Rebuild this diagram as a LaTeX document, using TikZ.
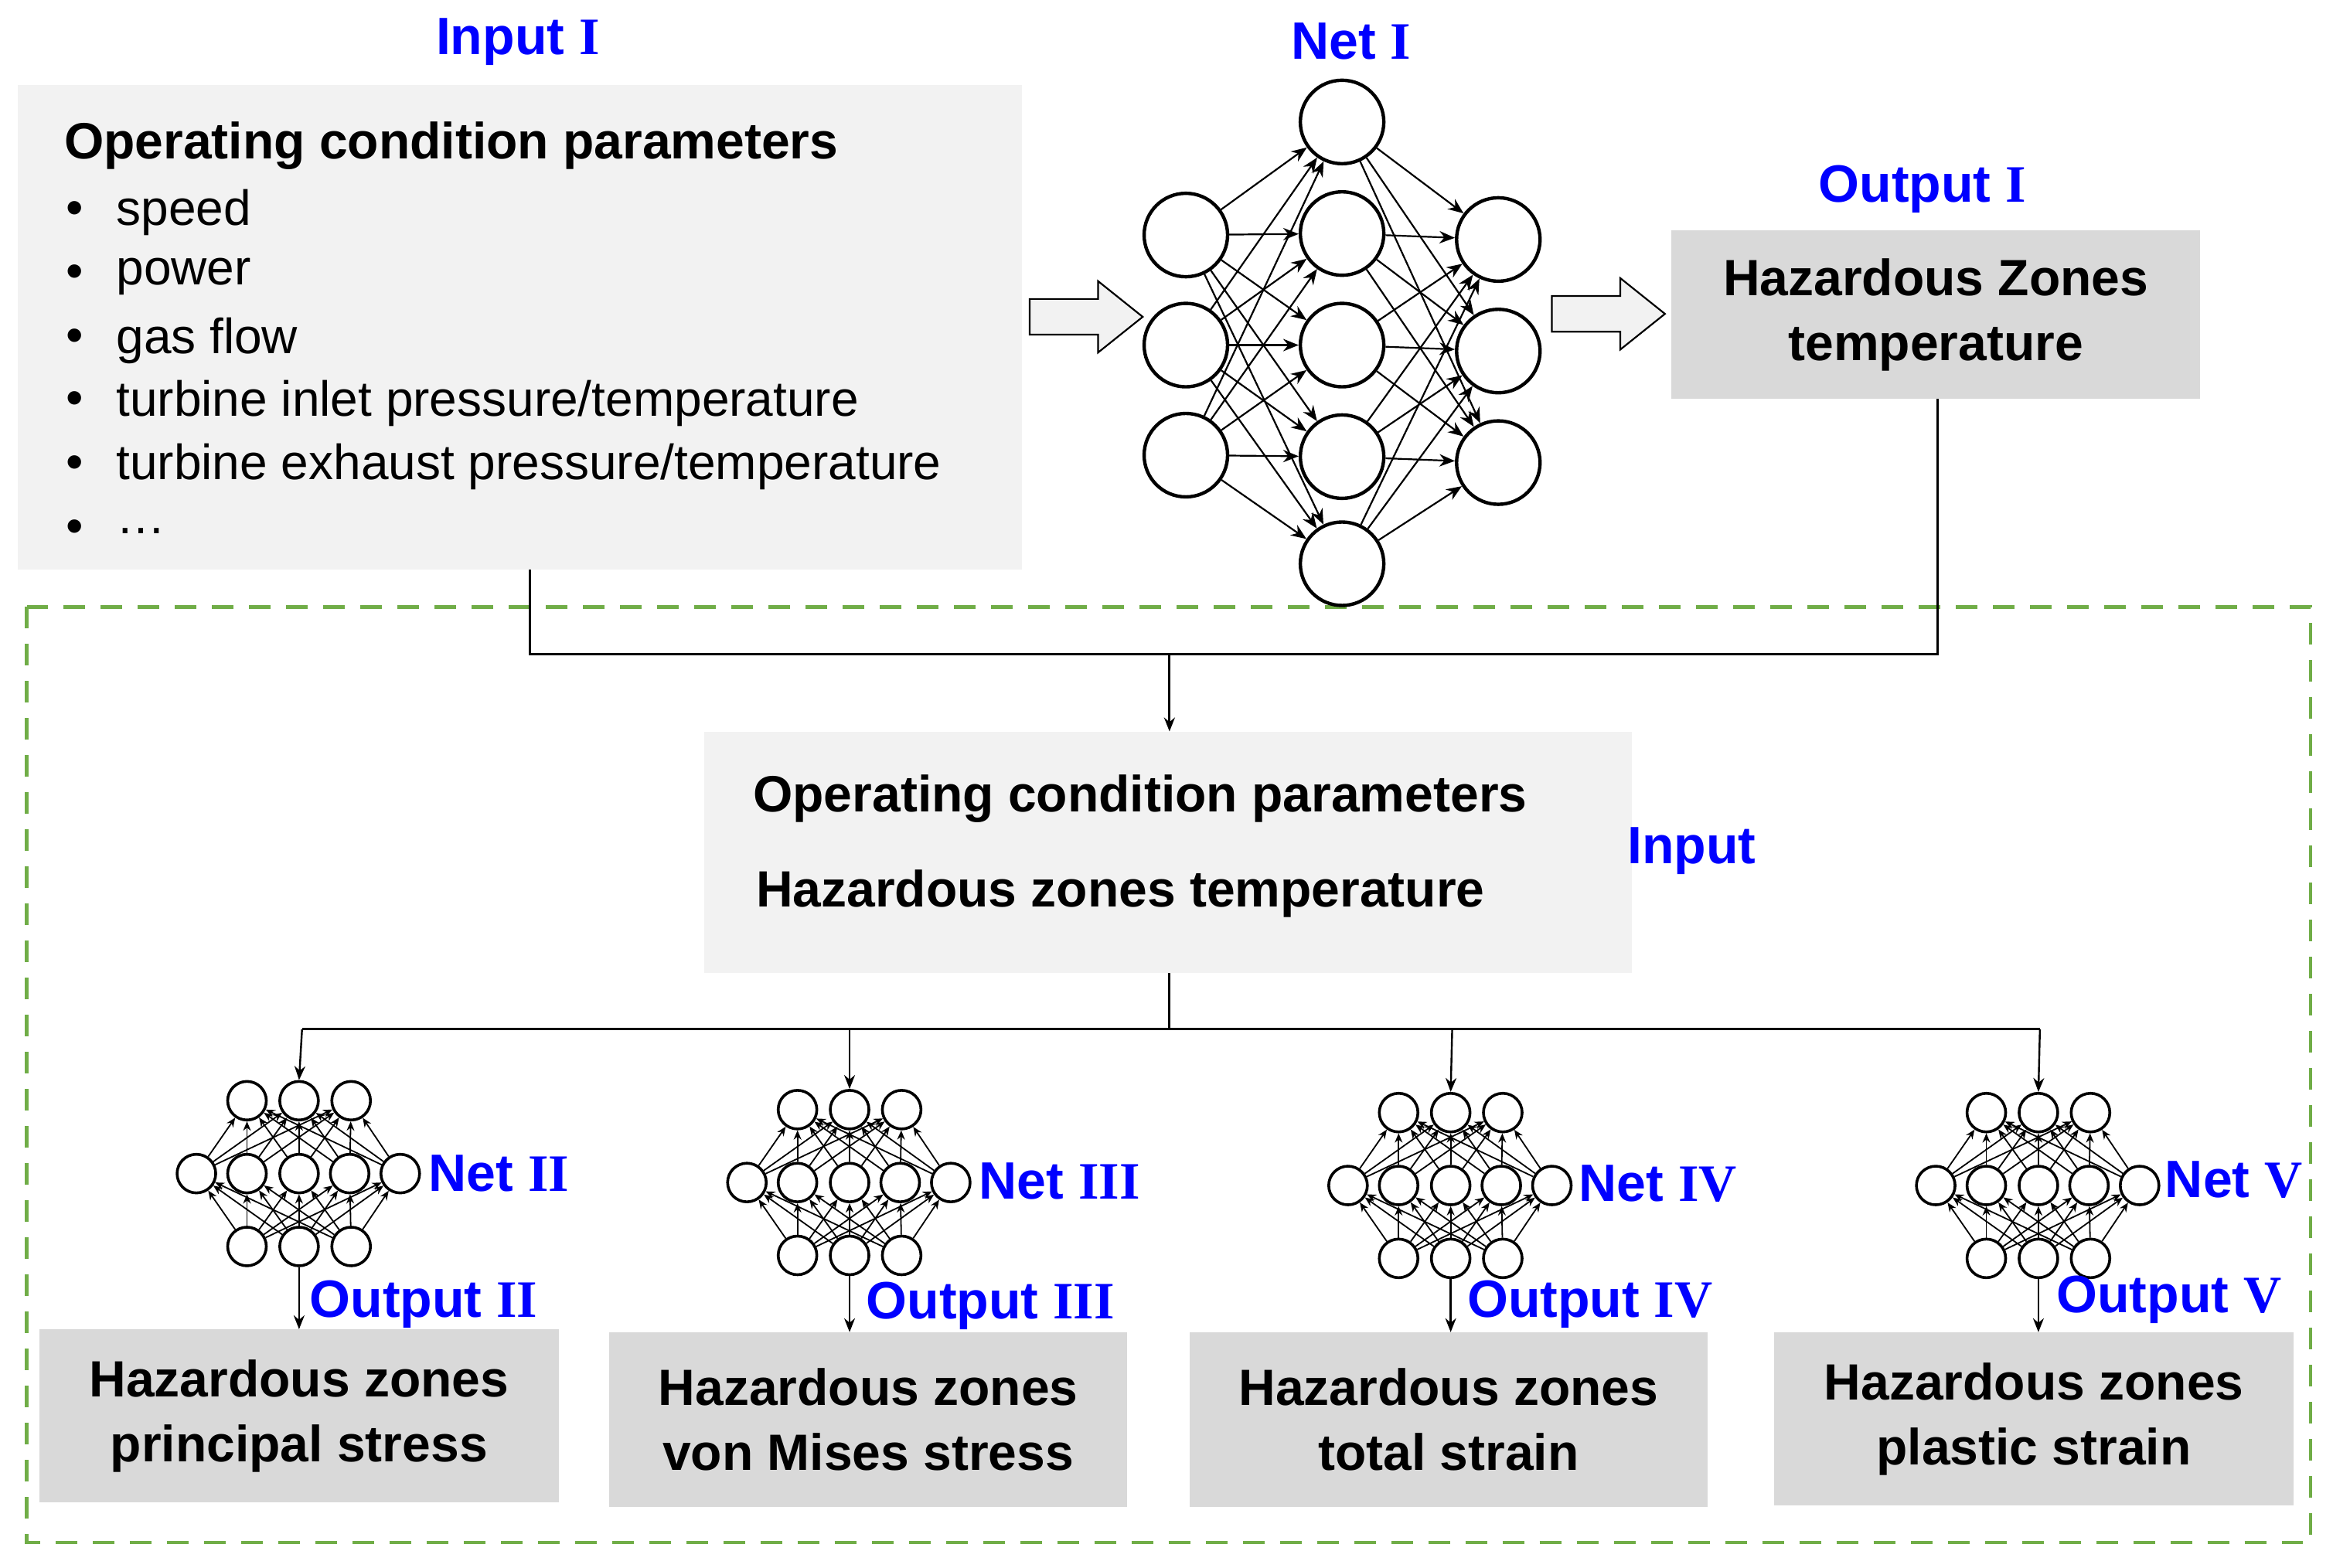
\documentclass[tikz,border=0pt]{standalone}
\usepackage{fontspec}
\setmainfont{Liberation Sans}
\newfontfamily\romf{Liberation Serif}
\usetikzlibrary{arrows.meta}
\definecolor{lbox}{HTML}{F2F2F2}
\definecolor{dbox}{HTML}{D9D9D9}
\definecolor{lblue}{HTML}{0000FF}
\definecolor{dgreen}{HTML}{70AD47}
\newcommand\rn[1]{{\romf\bfseries #1}}
\newcommand\snet[3]{% name, x, ytop
  \foreach \i/\dx in {1/-35,2/0,3/35}{\node[sc] (#1t\i) at (#2+\dx,#3) {};}
  \foreach \i/\dx in {1/-69,2/-35,3/0,4/34,5/68}{\node[sc] (#1m\i) at (#2+\dx,#3+49) {};}
  \foreach \i/\dx in {1/-35,2/0,3/35}{\node[sc] (#1b\i) at (#2+\dx,#3+98) {};}
  \foreach \a in {1,2,3}{\foreach \b in {1,...,5}{\draw[sarr] (#1b\a) -- (#1m\b);}}
  \foreach \a in {1,...,5}{\foreach \b in {1,2,3}{\draw[sarr] (#1m\a) -- (#1t\b);}}
}
\newcommand\harrow[2]{% left x, center y
  \draw[line width=1.1pt,fill=lbox] (#1,#2-12) -- (#1+46,#2-12) -- (#1+46,#2-24) -- (#1+76,#2) -- (#1+46,#2+24) -- (#1+46,#2+12) -- (#1,#2+12) -- cycle;}
\begin{document}
\begin{tikzpicture}[x=0.9625pt,y=-0.9625pt,
  bc/.style={circle,draw,line width=2.2pt,minimum size=54,inner sep=0,fill=white},
  sc/.style={circle,draw,line width=1.8pt,minimum size=25,inner sep=0,fill=white},
  barr/.style={-{Stealth[length=10pt,width=8pt]},line width=1.1pt},
  sarr/.style={-{Stealth[length=6pt,width=5pt]},line width=0.9pt},
  conn/.style={line width=1.5pt},
  carr/.style={line width=1.4pt,-{Stealth[length=9pt,width=7pt]}},
  lab/.style={text=lblue,font=\fontsize{34}{40}\selectfont\bfseries,inner sep=0},
  txt/.style={font=\fontsize{32}{38}\selectfont,inner sep=0,anchor=west},
  btxt/.style={font=\fontsize{33}{38}\selectfont\bfseries,inner sep=0,anchor=west},
  hbox/.style={fill=dbox,align=center,inner sep=0,font=\fontsize{33}{42}\selectfont\bfseries}]
\useasboundingbox (0,0) rectangle (1568,1054);
% green dashed frame
\draw[dgreen,line width=2.2pt,dash pattern=on 14pt off 10pt] (18,408) rectangle (1553,1037);
% Input I
\node[lab] (inI) at (348,28) {Input \rn{I}};
\fill[lbox] (12,57) rectangle (687,383);
\coordinate (inbot) at (356,383);
\node[btxt] (t0) at (43,98) {Operating condition parameters};
\foreach \y/\s [count=\k] in {143/{speed},186/{power},229/{gas flow},271/{turbine inlet pressure/temperature},314/{turbine exhaust pressure/temperature},357/{\ldots}}{
  \node[txt] (bu\k) at (44,\y) {•};
  \node[txt] (bt\k) at (78,\y) {\s};}
% hollow arrows
\harrow{692}{213}
\harrow{1043}{211}
% Net I
\node[lab] (netI) at (908,28) {Net \rn{I}};
\foreach \i/\y in {1/158,2/232,3/306}{\node[bc] (L\i) at (797,\y) {};}
\foreach \i/\y in {1/82,2/157,3/232,4/307,5/379}{\node[bc] (M\i) at (902,\y) {};}
\foreach \i/\y in {1/161,2/236,3/311}{\node[bc] (R\i) at (1007,\y) {};}
\foreach \a in {1,2,3}{\foreach \b in {1,...,5}{\draw[barr] (L\a) -- (M\b);}}
\foreach \a in {1,...,5}{\foreach \b in {1,2,3}{\draw[barr] (M\a) -- (R\b);}}
% Output I
\node[lab] (outI) at (1292,127) {Output \rn{I}};
\node[hbox,minimum width=342,minimum height=109] (oI) at (1301,211.5) {Hazardous Zones\\temperature};
% connectors
\coordinate (j1) at (356,440);
\coordinate (j2) at (1302,440);
\coordinate (j3) at (786,440);
\draw[conn] (inbot) -- (j1) -- (j2) -- (oI.south -| j2);
% middle box
\node[fill=lbox,minimum width=600,minimum height=156,inner sep=0] (mid) at (785,573) {};
\node[btxt] (m1) at (506,537) {Operating condition parameters};
\node[btxt] (m2) at (508,601) {Hazardous zones temperature};
\node[lab] (inp) at (1137,572) {Input};
\draw[carr] (j3) -- (mid.north -| j3);
\coordinate (k0) at (786,692);
\coordinate (kl) at (203,692);
\coordinate (kr) at (1371,692);
\draw[conn] (mid.south -| k0) -- (k0);
\draw[conn] (kl) -- (kr);
% small nets
\snet{A}{201}{740}
\snet{B}{571}{746}
\snet{C}{975}{748}
\snet{D}{1370}{748}
\foreach \n/\x in {A/203,B/571,C/976,D/1371}{\draw[carr,line width=1.2pt] (\x,692) -- (\n t2.north);}
\node[lab,anchor=west] (nA) at (288,789) {Net \rn{II}};
\node[lab,anchor=west] (nB) at (658,794) {Net \rn{III}};
\node[lab,anchor=west] (nC) at (1061,796) {Net \rn{IV}};
\node[lab,anchor=west] (nD) at (1455,793) {Net \rn{V}};
\node[lab,anchor=west] (oA) at (208,877) {Output \rn{II}};
\node[lab,anchor=west] (oB) at (582,878) {Output \rn{III}};
\node[lab,anchor=west] (oC) at (986,877) {Output \rn{IV}};
\node[lab,anchor=west] (oD) at (1382,874) {Output \rn{V}};
% bottom boxes
\node[hbox,minimum width=336,minimum height=112] (bA) at (201,952) {Hazardous zones\\principal stress};
\node[hbox,minimum width=335,minimum height=113] (bB) at (583.5,954.5) {Hazardous zones\\von Mises stress};
\node[hbox,minimum width=335,minimum height=113] (bC) at (973.5,954.5) {Hazardous zones\\total strain};
\node[hbox,minimum width=336,minimum height=112] (bD) at (1367,954) {Hazardous zones\\plastic strain};
\draw[carr,line width=1.2pt] (Ab2) -- (Ab2.south |- bA.north);
\draw[carr,line width=1.2pt] (Bb2) -- (Bb2.south |- bB.north);
\draw[carr,line width=1.2pt] (Cb2) -- (Cb2.south |- bC.north);
\draw[carr,line width=1.2pt] (Db2) -- (Db2.south |- bD.north);
\end{tikzpicture}
\end{document}
